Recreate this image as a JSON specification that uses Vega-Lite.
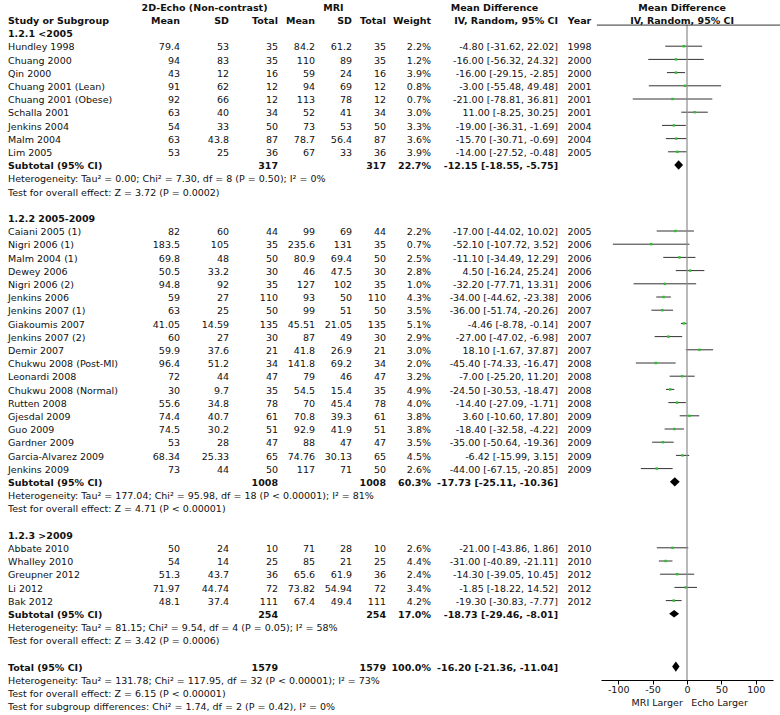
{
"$schema": "https://vega.github.io/schema/vega-lite/v6.json",
"padding": {"left": 8, "right": 0, "top": 0, "bottom": 0},
"background": "white",
"spacing": 0,
"bounds": "flush",
"config": {"view": {"stroke": null}, "text": {"font": "DejaVu Sans", "fontSize": 9.5, "baseline": "middle", "color": "#111", "dy": 1.2}},
"datasets": {
"rows": [
{"r":-1,"t":"hdr","study":"Study or Subgroup","em":"Mean","esd":"SD","en":"Total","mm":"Mean","msd":"SD","mn":"Total","w":"Weight","ci":"IV, Random, 95% CI","yr":"Year"},
{"r":0,"t":"g","study":"1.2.1 <2005"},
{"r":1,"t":"s","study":"Hundley 1998","em":"79.4","esd":"53","en":"35","mm":"84.2","msd":"61.2","mn":"35","w":"2.2%","ci":"-4.80 [-31.62, 22.02]","yr":"1998","md":-4.8,"lo":-31.62,"hi":22.02},
{"r":2,"t":"s","study":"Chuang 2000","em":"94","esd":"83","en":"35","mm":"110","msd":"89","mn":"35","w":"1.2%","ci":"-16.00 [-56.32, 24.32]","yr":"2000","md":-16,"lo":-56.32,"hi":24.32},
{"r":3,"t":"s","study":"Qin 2000","em":"43","esd":"12","en":"16","mm":"59","msd":"24","mn":"16","w":"3.9%","ci":"-16.00 [-29.15, -2.85]","yr":"2000","md":-16,"lo":-29.15,"hi":-2.85},
{"r":4,"t":"s","study":"Chuang 2001 (Lean)","em":"91","esd":"62","en":"12","mm":"94","msd":"69","mn":"12","w":"0.8%","ci":"-3.00 [-55.48, 49.48]","yr":"2001","md":-3,"lo":-55.48,"hi":49.48},
{"r":5,"t":"s","study":"Chuang 2001 (Obese)","em":"92","esd":"66","en":"12","mm":"113","msd":"78","mn":"12","w":"0.7%","ci":"-21.00 [-78.81, 36.81]","yr":"2001","md":-21,"lo":-78.81,"hi":36.81},
{"r":6,"t":"s","study":"Schalla 2001","em":"63","esd":"40","en":"34","mm":"52","msd":"41","mn":"34","w":"3.0%","ci":"11.00 [-8.25, 30.25]","yr":"2001","md":11,"lo":-8.25,"hi":30.25},
{"r":7,"t":"s","study":"Jenkins 2004","em":"54","esd":"33","en":"50","mm":"73","msd":"53","mn":"50","w":"3.3%","ci":"-19.00 [-36.31, -1.69]","yr":"2004","md":-19,"lo":-36.31,"hi":-1.69},
{"r":8,"t":"s","study":"Malm 2004","em":"63","esd":"43.8","en":"87","mm":"78.7","msd":"56.4","mn":"87","w":"3.6%","ci":"-15.70 [-30.71, -0.69]","yr":"2004","md":-15.7,"lo":-30.71,"hi":-0.69},
{"r":9,"t":"s","study":"Lim 2005","em":"53","esd":"25","en":"36","mm":"67","msd":"33","mn":"36","w":"3.9%","ci":"-14.00 [-27.52, -0.48]","yr":"2005","md":-14,"lo":-27.52,"hi":-0.48},
{"r":10,"t":"sub","study":"Subtotal (95% CI)","en":"317","mn":"317","w":"22.7%","ci":"-12.15 [-18.55, -5.75]","md":-12.15,"lo":-18.55,"hi":-5.75},
{"r":11,"t":"n","study":"Heterogeneity: Tau² = 0.00; Chi² = 7.30, df = 8 (P = 0.50); I² = 0%"},
{"r":12,"t":"n","study":"Test for overall effect: Z = 3.72 (P = 0.0002)"},
{"r":14,"t":"g","study":"1.2.2 2005-2009"},
{"r":15,"t":"s","study":"Caiani 2005 (1)","em":"82","esd":"60","en":"44","mm":"99","msd":"69","mn":"44","w":"2.2%","ci":"-17.00 [-44.02, 10.02]","yr":"2005","md":-17,"lo":-44.02,"hi":10.02},
{"r":16,"t":"s","study":"Nigri 2006 (1)","em":"183.5","esd":"105","en":"35","mm":"235.6","msd":"131","mn":"35","w":"0.7%","ci":"-52.10 [-107.72, 3.52]","yr":"2006","md":-52.1,"lo":-107.72,"hi":3.52},
{"r":17,"t":"s","study":"Malm 2004 (1)","em":"69.8","esd":"48","en":"50","mm":"80.9","msd":"69.4","mn":"50","w":"2.5%","ci":"-11.10 [-34.49, 12.29]","yr":"2006","md":-11.1,"lo":-34.49,"hi":12.29},
{"r":18,"t":"s","study":"Dewey 2006","em":"50.5","esd":"33.2","en":"30","mm":"46","msd":"47.5","mn":"30","w":"2.8%","ci":"4.50 [-16.24, 25.24]","yr":"2006","md":4.5,"lo":-16.24,"hi":25.24},
{"r":19,"t":"s","study":"Nigri 2006 (2)","em":"94.8","esd":"92","en":"35","mm":"127","msd":"102","mn":"35","w":"1.0%","ci":"-32.20 [-77.71, 13.31]","yr":"2006","md":-32.2,"lo":-77.71,"hi":13.31},
{"r":20,"t":"s","study":"Jenkins 2006","em":"59","esd":"27","en":"110","mm":"93","msd":"50","mn":"110","w":"4.3%","ci":"-34.00 [-44.62, -23.38]","yr":"2006","md":-34,"lo":-44.62,"hi":-23.38},
{"r":21,"t":"s","study":"Jenkins 2007 (1)","em":"63","esd":"25","en":"50","mm":"99","msd":"51","mn":"50","w":"3.5%","ci":"-36.00 [-51.74, -20.26]","yr":"2007","md":-36,"lo":-51.74,"hi":-20.26},
{"r":22,"t":"s","study":"Giakoumis 2007","em":"41.05","esd":"14.59","en":"135","mm":"45.51","msd":"21.05","mn":"135","w":"5.1%","ci":"-4.46 [-8.78, -0.14]","yr":"2007","md":-4.46,"lo":-8.78,"hi":-0.14},
{"r":23,"t":"s","study":"Jenkins 2007 (2)","em":"60","esd":"27","en":"30","mm":"87","msd":"49","mn":"30","w":"2.9%","ci":"-27.00 [-47.02, -6.98]","yr":"2007","md":-27,"lo":-47.02,"hi":-6.98},
{"r":24,"t":"s","study":"Demir 2007","em":"59.9","esd":"37.6","en":"21","mm":"41.8","msd":"26.9","mn":"21","w":"3.0%","ci":"18.10 [-1.67, 37.87]","yr":"2007","md":18.1,"lo":-1.67,"hi":37.87},
{"r":25,"t":"s","study":"Chukwu 2008 (Post-MI)","em":"96.4","esd":"51.2","en":"34","mm":"141.8","msd":"69.2","mn":"34","w":"2.0%","ci":"-45.40 [-74.33, -16.47]","yr":"2008","md":-45.4,"lo":-74.33,"hi":-16.47},
{"r":26,"t":"s","study":"Leonardi 2008","em":"72","esd":"44","en":"47","mm":"79","msd":"46","mn":"47","w":"3.2%","ci":"-7.00 [-25.20, 11.20]","yr":"2008","md":-7,"lo":-25.2,"hi":11.2},
{"r":27,"t":"s","study":"Chukwu 2008 (Normal)","em":"30","esd":"9.7","en":"35","mm":"54.5","msd":"15.4","mn":"35","w":"4.9%","ci":"-24.50 [-30.53, -18.47]","yr":"2008","md":-24.5,"lo":-30.53,"hi":-18.47},
{"r":28,"t":"s","study":"Rutten 2008","em":"55.6","esd":"34.8","en":"78","mm":"70","msd":"45.4","mn":"78","w":"4.0%","ci":"-14.40 [-27.09, -1.71]","yr":"2008","md":-14.4,"lo":-27.09,"hi":-1.71},
{"r":29,"t":"s","study":"Gjesdal 2009","em":"74.4","esd":"40.7","en":"61","mm":"70.8","msd":"39.3","mn":"61","w":"3.8%","ci":"3.60 [-10.60, 17.80]","yr":"2009","md":3.6,"lo":-10.6,"hi":17.8},
{"r":30,"t":"s","study":"Guo 2009","em":"74.5","esd":"30.2","en":"51","mm":"92.9","msd":"41.9","mn":"51","w":"3.8%","ci":"-18.40 [-32.58, -4.22]","yr":"2009","md":-18.4,"lo":-32.58,"hi":-4.22},
{"r":31,"t":"s","study":"Gardner 2009","em":"53","esd":"28","en":"47","mm":"88","msd":"47","mn":"47","w":"3.5%","ci":"-35.00 [-50.64, -19.36]","yr":"2009","md":-35,"lo":-50.64,"hi":-19.36},
{"r":32,"t":"s","study":"Garcia-Alvarez 2009","em":"68.34","esd":"25.33","en":"65","mm":"74.76","msd":"30.13","mn":"65","w":"4.5%","ci":"-6.42 [-15.99, 3.15]","yr":"2009","md":-6.42,"lo":-15.99,"hi":3.15},
{"r":33,"t":"s","study":"Jenkins 2009","em":"73","esd":"44","en":"50","mm":"117","msd":"71","mn":"50","w":"2.6%","ci":"-44.00 [-67.15, -20.85]","yr":"2009","md":-44,"lo":-67.15,"hi":-20.85},
{"r":34,"t":"sub","study":"Subtotal (95% CI)","en":"1008","mn":"1008","w":"60.3%","ci":"-17.73 [-25.11, -10.36]","md":-17.73,"lo":-25.11,"hi":-10.36},
{"r":35,"t":"n","study":"Heterogeneity: Tau² = 177.04; Chi² = 95.98, df = 18 (P < 0.00001); I² = 81%"},
{"r":36,"t":"n","study":"Test for overall effect: Z = 4.71 (P < 0.00001)"},
{"r":38,"t":"g","study":"1.2.3 >2009"},
{"r":39,"t":"s","study":"Abbate 2010","em":"50","esd":"24","en":"10","mm":"71","msd":"28","mn":"10","w":"2.6%","ci":"-21.00 [-43.86, 1.86]","yr":"2010","md":-21,"lo":-43.86,"hi":1.86},
{"r":40,"t":"s","study":"Whalley 2010","em":"54","esd":"14","en":"25","mm":"85","msd":"21","mn":"25","w":"4.4%","ci":"-31.00 [-40.89, -21.11]","yr":"2010","md":-31,"lo":-40.89,"hi":-21.11},
{"r":41,"t":"s","study":"Greupner 2012","em":"51.3","esd":"43.7","en":"36","mm":"65.6","msd":"61.9","mn":"36","w":"2.4%","ci":"-14.30 [-39.05, 10.45]","yr":"2012","md":-14.3,"lo":-39.05,"hi":10.45},
{"r":42,"t":"s","study":"Li 2012","em":"71.97","esd":"44.74","en":"72","mm":"73.82","msd":"54.94","mn":"72","w":"3.4%","ci":"-1.85 [-18.22, 14.52]","yr":"2012","md":-1.85,"lo":-18.22,"hi":14.52},
{"r":43,"t":"s","study":"Bak 2012","em":"48.1","esd":"37.4","en":"111","mm":"67.4","msd":"49.4","mn":"111","w":"4.2%","ci":"-19.30 [-30.83, -7.77]","yr":"2012","md":-19.3,"lo":-30.83,"hi":-7.77},
{"r":44,"t":"sub","study":"Subtotal (95% CI)","en":"254","mn":"254","w":"17.0%","ci":"-18.73 [-29.46, -8.01]","md":-18.73,"lo":-29.46,"hi":-8.01},
{"r":45,"t":"n","study":"Heterogeneity: Tau² = 81.15; Chi² = 9.54, df = 4 (P = 0.05); I² = 58%"},
{"r":46,"t":"n","study":"Test for overall effect: Z = 3.42 (P = 0.0006)"},
{"r":48,"t":"tot","study":"Total (95% CI)","en":"1579","mn":"1579","w":"100.0%","ci":"-16.20 [-21.36, -11.04]","md":-16.2,"lo":-21.36,"hi":-11.04},
{"r":49,"t":"n","study":"Heterogeneity: Tau² = 131.78; Chi² = 117.95, df = 32 (P < 0.00001); I² = 73%"},
{"r":50,"t":"n","study":"Test for overall effect: Z = 6.15 (P < 0.00001)"},
{"r":51,"t":"n","study":"Test for subgroup differences: Chi² = 1.74, df = 2 (P = 0.42), I² = 0%"}
]
},
"hconcat": [
{"width":122,"height":715,"data":{"name":"rows"},
 "encoding":{"y":{"field":"r","type":"quantitative","scale":{"domain":[-2.5,51.667],"reverse":true,"nice":false,"zero":false},"axis":null},
  "x":{"datum":0,"type":"quantitative","scale":{"domain":[0,1],"nice":false,"zero":false},"axis":null}},
 "layer":[
  {"transform":[{"filter":"isValid(datum.study) && (datum.t=='s' || datum.t=='n')"}],"mark":{"type":"text","align":"left"},"encoding":{"text":{"field":"study"}}},
  {"transform":[{"filter":"isValid(datum.study) && datum.t!='s' && datum.t!='n'"}],"mark":{"type":"text","align":"left","fontWeight":"bold"},"encoding":{"text":{"field":"study"}}}
 ]},
{"width":50,"height":715,"data":{"name":"rows"},
 "encoding":{"y":{"field":"r","type":"quantitative","scale":{"domain":[-2.5,51.667],"reverse":true,"nice":false,"zero":false},"axis":null},
  "x":{"datum":1,"type":"quantitative","scale":{"domain":[0,1],"nice":false,"zero":false},"axis":null}},
 "layer":[
  {"transform":[{"filter":"isValid(datum.em) && datum.t=='s'"}],"mark":{"type":"text","align":"right"},"encoding":{"text":{"field":"em"}}},
  {"transform":[{"filter":"isValid(datum.em) && datum.t!='s'"}],"mark":{"type":"text","align":"right","fontWeight":"bold"},"encoding":{"text":{"field":"em"}}}
 ]},
{"width":49,"height":715,"data":{"name":"rows"},
 "encoding":{"y":{"field":"r","type":"quantitative","scale":{"domain":[-2.5,51.667],"reverse":true,"nice":false,"zero":false},"axis":null},
  "x":{"datum":1,"type":"quantitative","scale":{"domain":[0,1],"nice":false,"zero":false},"axis":null}},
 "layer":[
  {"transform":[{"filter":"isValid(datum.esd) && datum.t=='s'"}],"mark":{"type":"text","align":"right"},"encoding":{"text":{"field":"esd"}}},
  {"transform":[{"filter":"isValid(datum.esd) && datum.t!='s'"}],"mark":{"type":"text","align":"right","fontWeight":"bold"},"encoding":{"text":{"field":"esd"}}},
  {"data":{"values":[{"r":-2,"label":"2D-Echo (Non-contrast)"}]},"mark":{"type":"text","align":"center","fontWeight":"bold"},"encoding":{"x":{"datum":0.5,"type":"quantitative","scale":{"domain":[0,1],"nice":false,"zero":false},"axis":null},"text":{"field":"label"}}}
 ]},
{"width":49,"height":715,"data":{"name":"rows"},
 "encoding":{"y":{"field":"r","type":"quantitative","scale":{"domain":[-2.5,51.667],"reverse":true,"nice":false,"zero":false},"axis":null},
  "x":{"datum":1,"type":"quantitative","scale":{"domain":[0,1],"nice":false,"zero":false},"axis":null}},
 "layer":[
  {"transform":[{"filter":"isValid(datum.en) && datum.t=='s'"}],"mark":{"type":"text","align":"right"},"encoding":{"text":{"field":"en"}}},
  {"transform":[{"filter":"isValid(datum.en) && datum.t!='s'"}],"mark":{"type":"text","align":"right","fontWeight":"bold"},"encoding":{"text":{"field":"en"}}}
 ]},
{"width":37,"height":715,"data":{"name":"rows"},
 "encoding":{"y":{"field":"r","type":"quantitative","scale":{"domain":[-2.5,51.667],"reverse":true,"nice":false,"zero":false},"axis":null},
  "x":{"datum":1,"type":"quantitative","scale":{"domain":[0,1],"nice":false,"zero":false},"axis":null}},
 "layer":[
  {"transform":[{"filter":"isValid(datum.mm) && datum.t=='s'"}],"mark":{"type":"text","align":"right"},"encoding":{"text":{"field":"mm"}}},
  {"transform":[{"filter":"isValid(datum.mm) && datum.t!='s'"}],"mark":{"type":"text","align":"right","fontWeight":"bold"},"encoding":{"text":{"field":"mm"}}}
 ]},
{"width":37,"height":715,"data":{"name":"rows"},
 "encoding":{"y":{"field":"r","type":"quantitative","scale":{"domain":[-2.5,51.667],"reverse":true,"nice":false,"zero":false},"axis":null},
  "x":{"datum":1,"type":"quantitative","scale":{"domain":[0,1],"nice":false,"zero":false},"axis":null}},
 "layer":[
  {"transform":[{"filter":"isValid(datum.msd) && datum.t=='s'"}],"mark":{"type":"text","align":"right"},"encoding":{"text":{"field":"msd"}}},
  {"transform":[{"filter":"isValid(datum.msd) && datum.t!='s'"}],"mark":{"type":"text","align":"right","fontWeight":"bold"},"encoding":{"text":{"field":"msd"}}},
  {"data":{"values":[{"r":-2,"label":"MRI"}]},"mark":{"type":"text","align":"center","fontWeight":"bold"},"encoding":{"x":{"datum":0.5,"type":"quantitative","scale":{"domain":[0,1],"nice":false,"zero":false},"axis":null},"text":{"field":"label"}}}
 ]},
{"width":34,"height":715,"data":{"name":"rows"},
 "encoding":{"y":{"field":"r","type":"quantitative","scale":{"domain":[-2.5,51.667],"reverse":true,"nice":false,"zero":false},"axis":null},
  "x":{"datum":1,"type":"quantitative","scale":{"domain":[0,1],"nice":false,"zero":false},"axis":null}},
 "layer":[
  {"transform":[{"filter":"isValid(datum.mn) && datum.t=='s'"}],"mark":{"type":"text","align":"right"},"encoding":{"text":{"field":"mn"}}},
  {"transform":[{"filter":"isValid(datum.mn) && datum.t!='s'"}],"mark":{"type":"text","align":"right","fontWeight":"bold"},"encoding":{"text":{"field":"mn"}}}
 ]},
{"width":45,"height":715,"data":{"name":"rows"},
 "encoding":{"y":{"field":"r","type":"quantitative","scale":{"domain":[-2.5,51.667],"reverse":true,"nice":false,"zero":false},"axis":null},
  "x":{"datum":1,"type":"quantitative","scale":{"domain":[0,1],"nice":false,"zero":false},"axis":null}},
 "layer":[
  {"transform":[{"filter":"isValid(datum.w) && datum.t=='s'"}],"mark":{"type":"text","align":"right"},"encoding":{"text":{"field":"w"}}},
  {"transform":[{"filter":"isValid(datum.w) && datum.t!='s'"}],"mark":{"type":"text","align":"right","fontWeight":"bold"},"encoding":{"text":{"field":"w"}}}
 ]},
{"width":127,"height":715,"data":{"name":"rows"},
 "encoding":{"y":{"field":"r","type":"quantitative","scale":{"domain":[-2.5,51.667],"reverse":true,"nice":false,"zero":false},"axis":null},
  "x":{"datum":1,"type":"quantitative","scale":{"domain":[0,1],"nice":false,"zero":false},"axis":null}},
 "layer":[
  {"transform":[{"filter":"isValid(datum.ci) && datum.t=='s'"}],"mark":{"type":"text","align":"right"},"encoding":{"text":{"field":"ci"}}},
  {"transform":[{"filter":"isValid(datum.ci) && datum.t!='s'"}],"mark":{"type":"text","align":"right","fontWeight":"bold"},"encoding":{"text":{"field":"ci"}}},
  {"data":{"values":[{"r":-2,"label":"Mean Difference"}]},"mark":{"type":"text","align":"center","fontWeight":"bold"},"encoding":{"x":{"datum":0.5,"type":"quantitative","scale":{"domain":[0,1],"nice":false,"zero":false},"axis":null},"text":{"field":"label"}}}
 ]},
{"width":43,"height":715,"data":{"name":"rows"},
 "encoding":{"y":{"field":"r","type":"quantitative","scale":{"domain":[-2.5,51.667],"reverse":true,"nice":false,"zero":false},"axis":null},
  "x":{"datum":0.5,"type":"quantitative","scale":{"domain":[0,1],"nice":false,"zero":false},"axis":null}},
 "layer":[
  {"transform":[{"filter":"isValid(datum.yr) && datum.t=='s'"}],"mark":{"type":"text","align":"center"},"encoding":{"text":{"field":"yr"}}},
  {"transform":[{"filter":"isValid(datum.yr) && datum.t!='s'"}],"mark":{"type":"text","align":"center","fontWeight":"bold"},"encoding":{"text":{"field":"yr"}}}
 ]},
{"width":172,"height":680,"data":{"name":"rows"},
 "layer":[
  {"transform":[{"filter":"datum.t=='s'"}],"mark":{"type":"rule","color":"#333","strokeWidth":1},
   "encoding":{
    "x":{"field":"lo","type":"quantitative","scale":{"domain":[-125,125],"nice":false,"zero":false},"axis":{"orient":"bottom","values":[-100,-50,0,50,100],"title":null,"grid":false,"domainColor":"#000","tickColor":"#000","tickSize":4,"labelFont":"DejaVu Sans","labelFontSize":9.5,"labelColor":"#111","labelPadding":0,"labelExpr":"''+datum.value","labelFlush":false,"labelOverlap":false}},
    "x2":{"field":"hi"},
    "y":{"field":"r","type":"quantitative","scale":{"domain":[-2.5,49.015],"reverse":true,"nice":false,"zero":false},"axis":null}}},
  {"transform":[{"filter":"datum.t=='s'"}],"mark":{"type":"square","color":"#2fbf2f","size":6,"opacity":1},
   "encoding":{
    "x":{"field":"md","type":"quantitative","scale":{"domain":[-125,125],"nice":false,"zero":false},"axis":{"orient":"bottom","values":[-100,-50,0,50,100],"title":null,"grid":false,"domainColor":"#000","tickColor":"#000","tickSize":4,"labelFont":"DejaVu Sans","labelFontSize":9.5,"labelColor":"#111","labelPadding":0,"labelExpr":"''+datum.value","labelFlush":false,"labelOverlap":false}},
    "y":{"field":"r","type":"quantitative","scale":{"domain":[-2.5,49.015],"reverse":true,"nice":false,"zero":false},"axis":null}}},
  {"transform":[{"filter":"datum.t=='sub' || datum.t=='tot'"}],"mark":{"type":"point","filled":true,"color":"#000","opacity":1,"strokeWidth":0},
   "encoding":{
    "x":{"field":"md","type":"quantitative","scale":{"domain":[-125,125],"nice":false,"zero":false},"axis":{"orient":"bottom","values":[-100,-50,0,50,100],"title":null,"grid":false,"domainColor":"#000","tickColor":"#000","tickSize":4,"labelFont":"DejaVu Sans","labelFontSize":9.5,"labelColor":"#111","labelPadding":0,"labelExpr":"''+datum.value","labelFlush":false,"labelOverlap":false}},
    "y":{"field":"r","type":"quantitative","scale":{"domain":[-2.5,49.015],"reverse":true,"nice":false,"zero":false},"axis":null},
    "shape":{"field":"r","type":"nominal","scale":{"domain":[10,34,44,48],"range":["M-0.917,0L0,-1L0.917,0L0,1Z","M-1,0L0,-0.95L1,0L0,0.95Z","M-1,0L0,-0.743L1,0L0,0.743Z","M-0.74,0L0,-1L0.74,0L0,1Z"]},"legend":null},
    "size":{"field":"r","type":"ordinal","scale":{"domain":[10,34,44,48],"range":[92,102,219,92]},"legend":null}}},
  {"transform":[{"filter":"datum.r == -1"}],"mark":{"type":"rule","color":"#8a8a8a","strokeWidth":1.2},
   "encoding":{
    "x":{"datum":0,"type":"quantitative","scale":{"domain":[-125,125],"nice":false,"zero":false},"axis":{"orient":"bottom","values":[-100,-50,0,50,100],"title":null,"grid":false,"domainColor":"#000","tickColor":"#000","tickSize":4,"labelFont":"DejaVu Sans","labelFontSize":9.5,"labelColor":"#111","labelPadding":0,"labelExpr":"''+datum.value","labelFlush":false,"labelOverlap":false}},
    "y":{"datum":-0.6,"type":"quantitative","scale":{"domain":[-2.5,49.015],"reverse":true,"nice":false,"zero":false},"axis":null},
    "y2":{"datum":49.015}}},
  {"transform":[{"filter":"datum.r == -1"}],"mark":{"type":"rule","color":"#333","strokeWidth":1},
   "encoding":{
    "x":{"datum":-131,"type":"quantitative","scale":{"domain":[-125,125],"nice":false,"zero":false},"axis":{"orient":"bottom","values":[-100,-50,0,50,100],"title":null,"grid":false,"domainColor":"#000","tickColor":"#000","tickSize":4,"labelFont":"DejaVu Sans","labelFontSize":9.5,"labelColor":"#111","labelPadding":0,"labelExpr":"''+datum.value","labelFlush":false,"labelOverlap":false}},
    "x2":{"datum":136},
    "y":{"datum":-0.6,"type":"quantitative","scale":{"domain":[-2.5,49.015],"reverse":true,"nice":false,"zero":false},"axis":null}}},
  {"data":{"values":[{"r":-2,"label":"Mean Difference"},{"r":-1,"label":"IV, Random, 95% CI"}]},"mark":{"type":"text","align":"center","fontWeight":"bold"},
   "encoding":{
    "x":{"datum":-7,"type":"quantitative","scale":{"domain":[-125,125],"nice":false,"zero":false},"axis":{"orient":"bottom","values":[-100,-50,0,50,100],"title":null,"grid":false,"domainColor":"#000","tickColor":"#000","tickSize":4,"labelFont":"DejaVu Sans","labelFontSize":9.5,"labelColor":"#111","labelPadding":0,"labelExpr":"''+datum.value","labelFlush":false,"labelOverlap":false}},
    "y":{"field":"r","type":"quantitative","scale":{"domain":[-2.5,49.015],"reverse":true,"nice":false,"zero":false},"axis":null},
    "text":{"field":"label"}}},
  {"data":{"values":[{"r":50.65,"label":"MRI Larger"}]},"mark":{"type":"text","align":"right"},
   "encoding":{
    "x":{"datum":-6,"type":"quantitative","scale":{"domain":[-125,125],"nice":false,"zero":false},"axis":{"orient":"bottom","values":[-100,-50,0,50,100],"title":null,"grid":false,"domainColor":"#000","tickColor":"#000","tickSize":4,"labelFont":"DejaVu Sans","labelFontSize":9.5,"labelColor":"#111","labelPadding":0,"labelExpr":"''+datum.value","labelFlush":false,"labelOverlap":false}},
    "y":{"field":"r","type":"quantitative","scale":{"domain":[-2.5,49.015],"reverse":true,"nice":false,"zero":false},"axis":null},
    "text":{"field":"label"}}},
  {"data":{"values":[{"r":50.65,"label":"Echo Larger"}]},"mark":{"type":"text","align":"left"},
   "encoding":{
    "x":{"datum":6,"type":"quantitative","scale":{"domain":[-125,125],"nice":false,"zero":false},"axis":{"orient":"bottom","values":[-100,-50,0,50,100],"title":null,"grid":false,"domainColor":"#000","tickColor":"#000","tickSize":4,"labelFont":"DejaVu Sans","labelFontSize":9.5,"labelColor":"#111","labelPadding":0,"labelExpr":"''+datum.value","labelFlush":false,"labelOverlap":false}},
    "y":{"field":"r","type":"quantitative","scale":{"domain":[-2.5,49.015],"reverse":true,"nice":false,"zero":false},"axis":null},
    "text":{"field":"label"}}}
 ]}
]
}
